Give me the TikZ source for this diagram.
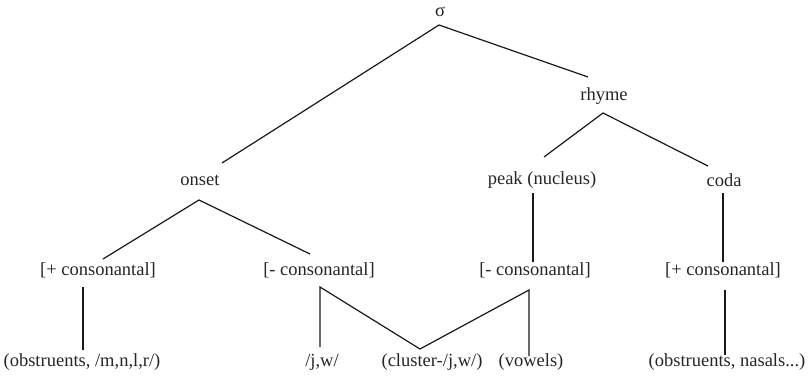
\documentclass[tikz,border=0pt]{standalone}
\usepackage{fontspec}
\setmainfont{Liberation Serif}
\begin{document}
\begin{tikzpicture}[x=1pt,y=-1pt,
  lbl/.style={inner sep=0pt,font=\fontsize{18.5}{22}\selectfont,text=black!85},
  edge/.style={line width=1.2pt,black!90}]
\useasboundingbox (0,0) rectangle (808,383);
% texts
\node[lbl] (sigma) at (440,12) {σ};
\node[lbl] (rhyme) at (604,96) {rhyme};
\node[lbl] (onset) at (200,180) {onset};
\node[lbl] (peak) at (542,180) {peak (nucleus)};
\node[lbl] (coda) at (724,180) {coda};
\node[lbl] (pc1) at (98,270) {[+ consonantal]};
\node[lbl] (mc1) at (319,270) {[- consonantal]};
\node[lbl] (mc2) at (535,270) {[- consonantal]};
\node[lbl] (pc2) at (723,270) {[+ consonantal]};
\node[lbl] (obs) at (82,362) {(obstruents, /m,n,l,r/)};
\node[lbl] (jw) at (322,362) {/j,w/};
\node[lbl] (cl) at (432,362) {(cluster-/j,w/)};
\node[lbl] (vow) at (531,362) {(vowels)};
\node[lbl] (obsn) at (727,362) {(obstruents, nasals...)};
% line end points
\coordinate (sA) at (439,25);
\coordinate (onT) at (222,163);
\coordinate (rhT) at (588,77);
\coordinate (rA) at (603,113);
\coordinate (pkT) at (544,157);
\coordinate (cdT) at (708,166);
\coordinate (oA) at (199,200);
\coordinate (pc1T) at (103,259);
\coordinate (mc1T) at (310,254);
\coordinate (pkB) at (533,193);
\coordinate (mc2T) at (533,262);
\coordinate (cdB) at (723,193);
\coordinate (pc2T) at (723,262);
\coordinate (pc1B) at (83,287);
\coordinate (obsT) at (83,350);
\coordinate (mc1A) at (320,287);
\coordinate (jwT) at (320,347);
\coordinate (clT) at (420,349);
\coordinate (mc2A) at (529,290);
\coordinate (vowT) at (529,356);
\coordinate (pc2B) at (725,290);
\coordinate (obsnT) at (725,355);
% connectors
\draw[edge] (onT) -- (sA) -- (rhT);
\draw[edge] (pkT) -- (rA) -- (cdT);
\draw[edge] (pc1T) -- (oA) -- (mc1T);
\draw[edge] (pkB) -- (mc2T);
\draw[edge] (cdB) -- (pc2T);
\draw[edge] (pc1B) -- (obsT);
\draw[edge] (jwT) -- (mc1A) -- (clT) -- (mc2A) -- (vowT);
\draw[edge] (pc2B) -- (obsnT);
\end{tikzpicture}
\end{document}
